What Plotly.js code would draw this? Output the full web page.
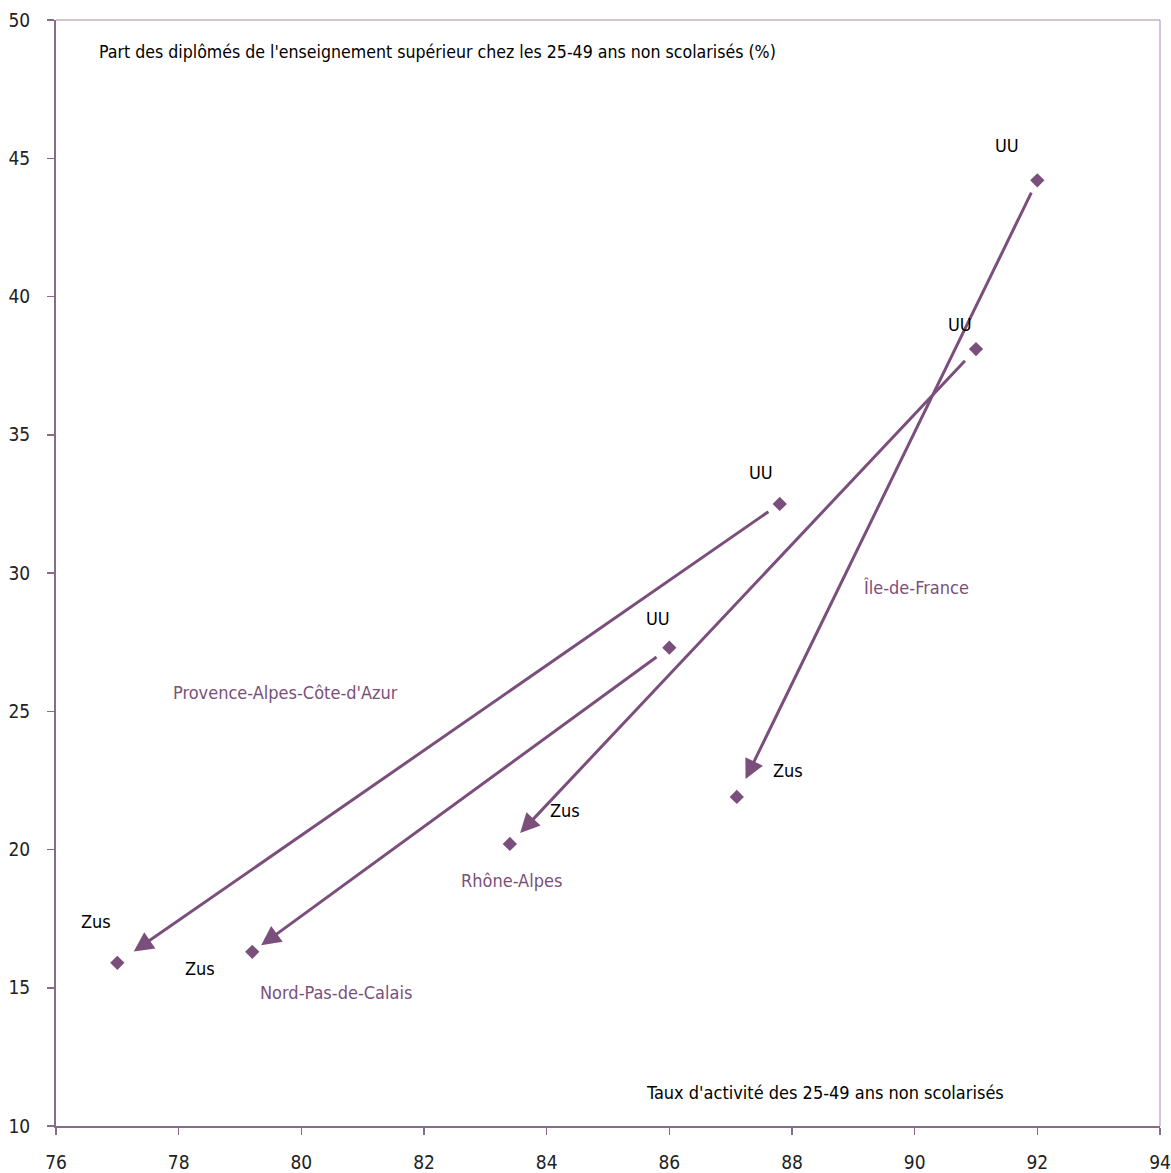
<!DOCTYPE html>
<html><head><meta charset="utf-8">
<script src="https://cdn.plot.ly/plotly-3.0.1.min.js"></script>
<style>html,body{margin:0;padding:0;background:#fff}#chart{width:1171px;height:1173px}</style>
</head><body><div id="chart"></div>
<script>
// Data
const regions = ["Île-de-France", "Rhône-Alpes", "Provence-Alpes-Côte-d'Azur", "Nord-Pas-de-Calais"];
const uuActivity = [92.0, 91.0, 87.8, 86.0];
const uuDiplomes = [44.2, 38.1, 32.5, 27.3];
const zusActivity = [87.1, 83.4, 77.0, 79.2];
const zusDiplomes = [21.9, 20.2, 15.9, 16.3];
const xTicks = [76, 78, 80, 82, 84, 86, 88, 90, 92, 94];
const yTicks = [10, 15, 20, 25, 30, 35, 40, 45, 50];

// Styling / label offsets (pixels)
const FONT = "'DejaVu Sans Condensed', 'Liberation Sans Narrow', sans-serif";
const PURPLE = '#7b4f7b';
const AXIS = '#8a6a8a';
const uuShift = [[-30, 35], [-16, 25], [-19, 31], [-11, 29]];
const zusShift = [[51, 26], [55, 33], [-21, 41], [-52, -17]];
const regionShift = [[179, 209], [2, -37], [168, 270], [84, -41]];
const headStandoff = [20, 15, 20, 11];
const tailStandoff = [12, 14, 12, 14];

const allX = uuActivity.concat(zusActivity);
const allY = uuDiplomes.concat(zusDiplomes);

const trace = {
  x: allX, y: allY, type: 'scatter', mode: 'markers',
  marker: {symbol: 'diamond', size: 11, color: PURPLE},
  hoverinfo: 'x+y', showlegend: false, cliponaxis: false
};

const annotations = [];
regions.forEach((r, i) => {
  annotations.push({
    x: zusActivity[i], y: zusDiplomes[i], ax: uuActivity[i], ay: uuDiplomes[i],
    xref: 'x', yref: 'y', axref: 'x', ayref: 'y', text: '', showarrow: true,
    arrowhead: 2, arrowsize: 1.3, arrowwidth: 3, arrowcolor: PURPLE,
    standoff: headStandoff[i], startstandoff: tailStandoff[i]
  });
  annotations.push({
    x: uuActivity[i], y: uuDiplomes[i], xref: 'x', yref: 'y', text: 'UU', showarrow: false,
    xshift: uuShift[i][0], yshift: uuShift[i][1], font: {family: FONT, size: 18, color: '#000'}
  });
  annotations.push({
    x: zusActivity[i], y: zusDiplomes[i], xref: 'x', yref: 'y', text: 'Zus', showarrow: false,
    xshift: zusShift[i][0], yshift: zusShift[i][1], font: {family: FONT, size: 18, color: '#000'}
  });
  annotations.push({
    x: zusActivity[i], y: zusDiplomes[i], xref: 'x', yref: 'y', text: r, showarrow: false,
    xshift: regionShift[i][0], yshift: regionShift[i][1], font: {family: FONT, size: 18, color: PURPLE}
  });
});
annotations.push({
  xref: 'paper', yref: 'paper', x: 0.037, y: 0.971, xanchor: 'left', yanchor: 'middle', showarrow: false,
  text: "Part des diplômés de l'enseignement supérieur chez les 25-49 ans non scolarisés (%)",
  font: {family: FONT, size: 17.6, color: '#000'}
});
annotations.push({
  xref: 'paper', yref: 'paper', x: 0.6966, y: 0.0307, xanchor: 'center', yanchor: 'middle', showarrow: false,
  text: "Taux d'activité des 25-49 ans non scolarisés",
  font: {family: FONT, size: 18, color: '#000'}
});

const layout = {
  width: 1171, height: 1173,
  margin: {l: 56, r: 11, t: 20, b: 47, pad: 0},
  paper_bgcolor: '#fff', plot_bgcolor: '#fff',
  font: {family: FONT, size: 18, color: '#222'},
  xaxis: {
    range: [76, 94], tickvals: xTicks, ticktext: xTicks.map(String), showgrid: false, zeroline: false,
    showline: true, linecolor: AXIS, linewidth: 2, mirror: false,
    ticks: 'outside', ticklen: 7, tickwidth: 1.5, tickcolor: AXIS, ticklabelstandoff: 11,
    tickfont: {family: FONT, size: 19, color: '#222'}
  },
  yaxis: {
    range: [10, 50], tickvals: yTicks, ticktext: yTicks.map(String), showgrid: false, zeroline: false,
    showline: true, linecolor: AXIS, linewidth: 2,
    ticks: 'outside', ticklen: 7, tickwidth: 1.5, tickcolor: AXIS, ticklabelstandoff: 13,
    tickfont: {family: FONT, size: 19, color: '#222'}
  },
  shapes: [
    {type: 'line', xref: 'paper', yref: 'paper', x0: 0, x1: 1, y0: 1, y1: 1, line: {color: '#a88aa8', width: 1}},
    {type: 'line', xref: 'paper', yref: 'paper', x0: 1, x1: 1, y0: 0, y1: 1, line: {color: '#a88aa8', width: 1}}
  ],
  annotations: annotations
};

Plotly.newPlot('chart', [trace], layout, {displayModeBar: false, staticPlot: true});
</script>
</body></html>
